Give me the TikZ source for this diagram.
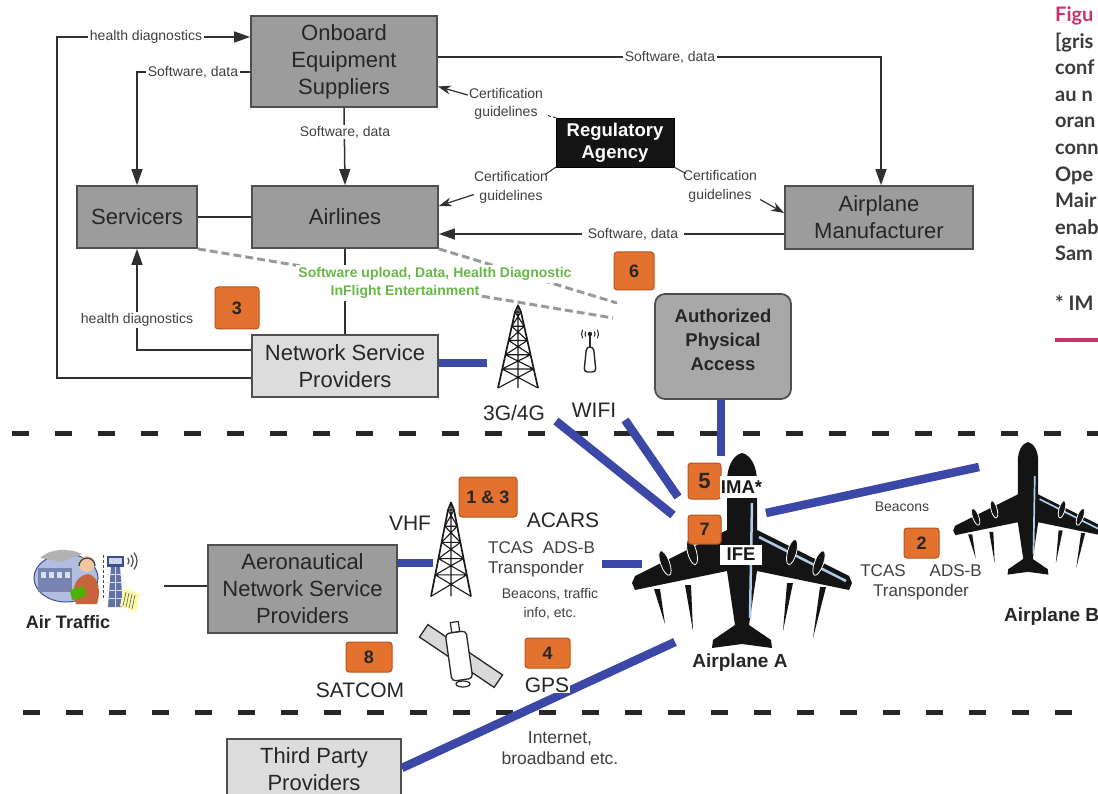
\documentclass[tikz,border=0pt]{standalone}
\usepackage{fontspec}
\setmainfont{Liberation Sans}
\newfontfamily\capfont{Lato}
\usetikzlibrary{arrows.meta,calc,shapes.geometric}
\definecolor{boxgray}{HTML}{9C9C9C}
\definecolor{lightgraybox}{HTML}{DCDCDC}
\definecolor{apagray}{HTML}{A8A8A8}
\definecolor{bordergray}{HTML}{4F4F4F}
\definecolor{linegray}{HTML}{303030}
\definecolor{labelgray}{HTML}{404040}
\definecolor{orangefill}{HTML}{E2722E}
\definecolor{orangeedge}{HTML}{B4541E}
\definecolor{radioblue}{HTML}{3C48A8}
\definecolor{greentext}{HTML}{68B846}
\definecolor{dashgray}{HTML}{9A9A9A}
\definecolor{captionpink}{HTML}{C8336F}
\definecolor{captiontext}{HTML}{3A3A3A}
\definecolor{planeblue}{HTML}{AECDEB}
\definecolor{atcblue}{HTML}{7F93C9}
\definecolor{atcdark}{HTML}{3D4E8F}
\definecolor{skin}{HTML}{F2C7A0}
\definecolor{shirt}{HTML}{C7643E}

\tikzset{
  boxbase/.style={draw=bordergray, line width=1.8pt, align=center, inner sep=0pt, text=black!85,
     font=\fontsize{22}{27}\selectfont},
  graybox/.style={boxbase, fill=boxgray},
  lightbox/.style={boxbase, fill=lightgraybox},
  numbox/.style={fill=orangefill, draw=orangeedge, line width=1pt, rounded corners=3pt, inner sep=0pt,
     font=\bfseries\fontsize{18}{18}\selectfont, text=black!85},
  flow/.style={draw=linegray, line width=1.5pt},
  arrowflow/.style={flow, -{Triangle[length=16pt,width=11pt]}},
  certarrow/.style={draw=linegray, line width=1.2pt, -{Stealth[length=13pt,width=9pt]}},
  smalllabel/.style={font=\fontsize{14}{19}\selectfont, text=labelgray, fill=white, inner sep=1.5pt, align=center},
  certlabel/.style={font=\fontsize{14}{18.5}\selectfont, text=labelgray, inner sep=0pt, align=center},
  radio/.style={draw=radioblue, line width=8.5pt},
  biglabel/.style={font=\fontsize{21}{24}\selectfont, text=black!85, inner sep=1pt},
  midlabel/.style={font=\fontsize{17}{20}\selectfont, text=labelgray, inner sep=1pt, align=center},
  boldlabel/.style={font=\bfseries\fontsize{19}{22}\selectfont, text=black!85, inner sep=1pt},
  greenlabel/.style={font=\bfseries\fontsize{14}{16}\selectfont, text=greentext, fill=white, inner xsep=2pt, inner ysep=2.5pt},
  graydash/.style={draw=dashgray, line width=3pt, dash pattern=on 8pt off 4pt},
  zonedash/.style={draw=black!85, line width=5pt, dash pattern=on 17pt off 26pt},
  captionline/.style={font=\capfont\bfseries\fontsize{20}{22}\selectfont, text=captiontext, anchor=base west, inner sep=0pt},
}

\newcommand\latticetower{%
  \draw[line width=1.7pt, line join=round, draw=black!90] (-20,80) -- (-3,0) -- (0,-7) -- (3,0) -- (20,80);
  \draw[line width=1.1pt, draw=black!90]
     (-3,0)--(3,0) (-6.2,15)--(6.2,15) (-9.4,30)--(9.4,30) (-12.6,45)--(12.6,45) (-15.8,60)--(15.8,60)
     (-3,0)--(6.2,15) (3,0)--(-6.2,15) (-6.2,15)--(9.4,30) (6.2,15)--(-9.4,30)
     (-9.4,30)--(12.6,45) (9.4,30)--(-12.6,45) (-12.6,45)--(15.8,60) (12.6,45)--(-15.8,60)
     (-15.8,60)--(20,80) (15.8,60)--(-20,80) (0,-7)--(0,80);
}

\newcommand\airplaneshape[1]{%
  \fill[black!92] (0,0) .. controls (-9,2) and (-15,14) .. (-15,28) -- (-15,77) -- (-107,123) -- (-110,130) -- (-107,137)
     -- (-15,118) -- (-7,172) -- (-29,187) -- (-30,195) -- (0,191) -- (30,195) -- (29,187) -- (7,172) -- (15,118)
     -- (107,137) -- (110,130) -- (107,123) -- (15,77) -- (15,28) .. controls (15,14) and (9,2) .. (0,0) -- cycle;
  \draw[planeblue, line width=#1] (10,50) -- (8,165);
  \draw[planeblue, line width=#1] (17,84) -- (104,128);
  \foreach \ex/\ey/\ang in {-77/110/20, -50/99/15, 50/99/-15, 77/110/-20}
     \draw[white, line width=0.8pt, fill=black!92, rotate around={\ang:(\ex,\ey)}] (\ex,\ey) ellipse (4.5 and 13);
  \fill[black!92] (-88,136) -- (-82,136) -- (-77,171) -- cycle;
  \fill[black!92] (-57,132) -- (-51,132) -- (-49,178) -- cycle;
  \fill[black!92] (45,130) -- (51,130) -- (41,178) -- cycle;
  \fill[black!92] (78,134) -- (84,134) -- (71,185) -- cycle;
}

\begin{document}
\begin{tikzpicture}[x=1pt, y=-1pt]
\useasboundingbox (0,0) rectangle (1098,794);
\clip (0,0) rectangle (1098,794);
\fill[white] (0,0) rectangle (1098,794);

% zone separators
\draw[zonedash] (12,433) -- (1098,433);
\draw[zonedash] (23,712) -- (1080,712);

% ---------- boxes ----------
\node[graybox, minimum width=186pt, minimum height=91pt] (onb) at (344,61.5) {Onboard\\Equipment\\Suppliers};
\node[graybox, minimum width=120pt, minimum height=62pt] (serv) at (137,217) {Servicers};
\node[graybox, minimum width=186pt, minimum height=62pt] (air) at (345,217) {Airlines};
\node[fill=black!92, draw=black, minimum width=118pt, minimum height=49pt, inner sep=0pt, align=center,
      text=white, font=\bfseries\fontsize{18.5}{22}\selectfont] (reg) at (615,142.5) {Regulatory\\Agency};
\node[graybox, minimum width=188pt, minimum height=63pt] (am) at (879,217.5) {Airplane\\Manufacturer};
\node[lightbox, minimum width=186pt, minimum height=62pt] (nsp) at (345,366) {Network Service\\Providers};
\node[boxbase, fill=apagray, rounded corners=10pt, minimum width=136pt, minimum height=105pt] (apa) at (723,346.5) {};
\node[align=center, inner sep=0pt, text=black!85, font=\bfseries\fontsize{18.5}{24}\selectfont] (apatext) at (723,340) {Authorized\\Physical\\Access};
\node[graybox, minimum width=189pt, minimum height=88pt] (aero) at (302.5,589) {Aeronautical\\Network Service\\Providers};
\node[lightbox, minimum width=174pt, minimum height=60pt] (tpp) at (314,769) {Third Party\\Providers};

% ---------- gray dashed links ----------
\coordinate (d1end) at (613,318);
\coordinate (d2end) at (617,303);
\draw[graydash] (serv.south east) -- (d1end);
\draw[graydash] (air.south east) -- (d2end);

% ---------- black connectors ----------
\draw[arrowflow] ([yshift=-12pt]nsp.west) -- ++(-194,0) |- ([yshift=24.5pt]onb.west);
\draw[arrowflow] ([yshift=-10.5pt]onb.west) -| (serv.north);
\draw[arrowflow] (onb.south) -- (air.north);
\draw[flow] (serv.east) -- (air.west);
\draw[flow] (air.south) -- (nsp.north);
\draw[arrowflow] ([yshift=16pt]nsp.west) -| (serv.south);
\draw[arrowflow] ([yshift=4.5pt]onb.east) -| ([xshift=2pt]am.north);
\draw[arrowflow] ([yshift=-16.5pt]am.west) -- ([yshift=-16.5pt]am.west -| air.east);

\node[smalllabel] (lhd1) at (146,37) {health diagnostics};
\node[smalllabel] (lsd1) at (193,72) {Software, data};
\node[smalllabel] (lsd2) at (345,132) {Software, data};
\node[smalllabel] (lhd2) at (137,320) {health diagnostics};
\node[smalllabel] (lsd3) at (670,57) {Software, data};
\node[smalllabel, inner xsep=6pt] (lsd4) at (633,234) {Software, data};

% certification guidelines
\node[certlabel] (c1) at (506,104) {Certification\\guidelines};
\node[certlabel] (c2) at (511,187.5) {Certification\\guidelines};
\node[certlabel] (c3) at (720,186.5) {Certification\\guidelines};
\draw[certarrow] ($(c1.north west)+(-1,7)$) -- ([yshift=-25pt]onb.east);
\draw[linegray, line width=1pt, dash pattern=on 3pt off 2pt] (reg.north west) -- ($(c1.south east)+(3,-5)$);
\draw[linegray, line width=1pt] (reg.south west) -- ($(c2.north east)+(-3,3)$);
\draw[certarrow] ($(c2.south west)+(0,-9)$) -- ([yshift=11pt]air.east);
\draw[linegray, line width=1pt] (reg.south east) -- ($(c3.north west)+(3,3)$);
\draw[certarrow] ($(c3.south east)+(3,-3)$) -- ([yshift=4.5pt]am.west);

% green labels
\node[greenlabel] (g1) at (435,274) {Software upload, Data, Health Diagnostic};
\node[greenlabel] (g2) at (405,292) {InFlight Entertainment};

% ---------- towers and icons ----------
\begin{scope}[shift={(518,312)}, yscale=0.95]
  \latticetower
\end{scope}
\begin{scope}[shift={(451,510)}, yscale=1.08]
  \latticetower
\end{scope}

% wifi antenna
\draw[black!85, line width=1.4pt, fill=white, rounded corners=3.5pt] (586.5,347) -- (584,372) -- (596,372) -- (593.5,347) -- cycle;
\draw[black!85, line width=1.4pt] (590,347) -- (590,336);
\fill[black!85] (590,334) circle (2.2);
\draw[black!85, line width=1pt] ([shift={(150:5)}]590,334) arc[start angle=150, end angle=210, radius=5];
\draw[black!85, line width=1pt] ([shift={(150:8.5)}]590,334) arc[start angle=150, end angle=210, radius=8.5];
\draw[black!85, line width=1pt] ([shift={(-30:5)}]590,334) arc[start angle=-30, end angle=30, radius=5];
\draw[black!85, line width=1pt] ([shift={(-30:8.5)}]590,334) arc[start angle=-30, end angle=30, radius=8.5];

% satellite
\node[draw=black!85, line width=1.3pt, fill=black!15, minimum width=90pt, minimum height=15pt, inner sep=0pt, rotate=-34] (satpanel) at (461,656) {};
\node[draw=black!85, line width=1.3pt, fill=white, rounded corners=4pt, minimum width=21pt, minimum height=48pt, inner sep=0pt, rotate=8] (satbody) at (459,656) {};
\node[draw=black!85, line width=1.2pt, fill=white, minimum width=8pt, minimum height=10pt, inner sep=0pt, rotate=8] (sattop) at (455,627) {};
\node[draw=black!85, line width=1.2pt, fill=white, ellipse, minimum width=14pt, minimum height=6pt, inner sep=0pt] (satdish) at (463,684) {};

% air traffic clip art
\fill[atcblue!60] (66,578) ellipse (32 and 24);
\draw[atcdark, line width=1pt] (66,578) ellipse (32 and 24);
\fill[black!30] (40,558) .. controls (50,548) and (70,548) .. (82,554) -- (62,562) -- cycle;
\fill[atcdark!70] (38,568) rectangle (72,592);
\foreach \i in {0,...,3}{\fill[atcblue!30] (41+\i*8,572) rectangle (46+\i*8,578);}
\fill[shirt] (76,604) .. controls (70,590) and (75,576) .. (88,574) .. controls (99,576) and (101,592) .. (97,604) -- cycle;
\fill[skin] (87,564) circle (8);
\draw[black!75, line width=1.3pt] (79,566) arc[start angle=180, end angle=360, radius=8];
\fill[green!40!olive] (70,590) -- (84,586) -- (86,596) -- (72,600) -- cycle;
\draw[black!70, line width=1pt, dash pattern=on 3pt off 2pt] (103,555) -- (103,600);
\fill[atcdark!80] (108,607) -- (111,566) -- (120,566) -- (123,607) -- cycle;
\foreach \yy in {574,582,590,598}{\draw[white!70!atcblue, line width=0.8pt] (107,\yy) -- (124,\yy);}
\draw[white!70!atcblue, line width=0.8pt] (115.5,566) -- (115.5,607);
\fill[atcdark] (107,556) rectangle (124,567);
\fill[atcblue!40] (109,558) rectangle (122,564);
\foreach \rr in {5,9,13}{\draw[black!70, line width=1.2pt] ([shift={(-40:\rr)}]124,561) arc[start angle=-40, end angle=40, radius=\rr];}
\fill[yellow!35] (124,588) -- (140,594) -- (136,612) -- (120,606) -- cycle;
\foreach \k in {0,1,2,3}{\draw[black!60, line width=0.7pt] (126+\k*3,592+\k) -- (123+\k*3,606+\k);}

% ---------- airplanes ----------
\begin{scope}[shift={(742,453)}]
  \airplaneshape{2.5pt}
\end{scope}
\begin{scope}[shift={(1028,442)}, scale=0.68]
  \airplaneshape{1.7pt}
\end{scope}

% ---------- radio links ----------
\coordinate (t3g) at (487,363);
\coordinate (g3a) at (556,421);
\coordinate (g3b) at (673,515);
\coordinate (wfa) at (625,420);
\coordinate (wfb) at (678,497);
\coordinate (vhfin) at (433,563);
\coordinate (acarsa) at (602,564);
\coordinate (acarsb) at (642,564);
\coordinate (beaca) at (766,513);
\coordinate (beacb) at (979,467);
\coordinate (gpsend) at (675,642);
\draw[radio] ([yshift=3pt]nsp.east) -- (t3g);
\draw[radio] (g3a) -- (g3b);
\draw[radio] (wfa) -- (wfb);
\draw[radio] ([xshift=-2pt]apa.south) -- ++(0,56);
\draw[radio] ([yshift=26pt]aero.east) -- (vhfin);
\draw[radio] (acarsa) -- (acarsb);
\draw[radio] (beaca) -- (beacb);
\draw[radio] ([yshift=1pt]tpp.east) -- (gpsend);
\coordinate (atcend) at (164,586);
\draw[flow] (atcend) -- (atcend -| aero.west);

% ---------- orange markers ----------
\node[numbox, minimum width=44pt, minimum height=42pt] (n3) at (237,308) {3};
\node[numbox, minimum width=40pt, minimum height=38pt] (n6) at (634,271) {6};
\node[numbox, minimum width=58pt, minimum height=40pt] (n13) at (488,497) {1 \& 3};
\node[numbox, minimum width=46pt, minimum height=30pt] (n8) at (369,657) {8};
\node[numbox, minimum width=45pt, minimum height=30pt] (n4) at (547.5,653) {4};
\node[numbox, minimum width=33pt, minimum height=36pt, font=\bfseries\fontsize{22}{22}\selectfont] (n5) at (704.5,481) {5};
\node[numbox, minimum width=33pt, minimum height=29pt] (n7) at (704.5,529.5) {7};
\node[numbox, minimum width=35pt, minimum height=30pt] (n2) at (921.5,543) {2};

% ---------- labels ----------
\node[biglabel] (l3g) at (514,413) {3G/4G};
\node[biglabel] (lwifi) at (594,410) {WIFI};
\node[biglabel] (lvhf) at (410,523) {VHF};
\node[biglabel] (lacars) at (563,520) {ACARS};
\node[midlabel, anchor=west, align=left] (ltcas) at (487,559.5) {TCAS\ \ ADS-B\\Transponder};
\node[smalllabel, fill=none] (lbeac) at (550,603.5) {Beacons, traffic\\info, etc.};
\node[biglabel] (lsat) at (360,690) {SATCOM};
\node[biglabel, fill=white] (lgps) at (547,685) {GPS};
\node[midlabel, font=\fontsize{17.5}{21}\selectfont] (linet) at (560,748) {Internet,\\broadband etc.};
\node[smalllabel, fill=none] (lbeacb) at (902,507) {Beacons};
\node[midlabel] (ltcasb) at (921,582) {TCAS\hspace{24pt}ADS-B\\Transponder};
\node[boldlabel] (lplA) at (740,663) {Airplane A};
\node[boldlabel, anchor=west] (lplB) at (1003,617) {Airplane B};
\node[font=\bfseries\fontsize{18}{20}\selectfont, text=black!85, inner sep=1pt] (latc) at (68,622) {Air Traffic};
\node[fill=white, inner sep=1pt, minimum height=22pt, text=black!90, font=\bfseries\fontsize{18.5}{20}\selectfont] (ima) at (741.5,487) {IMA*};
\node[fill=white, inner sep=0pt, minimum width=42pt, minimum height=20pt, text=black!90, font=\bfseries\fontsize{18.5}{20}\selectfont] (ife) at (741,554.5) {IFE};

% ---------- caption fragments on the right ----------
\node[captionline, text=captionpink] (cap1) at (1055,22) {Figu};
\node[captionline] (cap2) at (1055,49) {[gris};
\node[captionline] (cap3) at (1055,75) {conf};
\node[captionline] (cap4) at (1055,102) {au n};
\node[captionline] (cap5) at (1055,128) {oran};
\node[captionline] (cap6) at (1055,155) {conn};
\node[captionline] (cap7) at (1055,182) {Ope};
\node[captionline] (cap8) at (1055,208) {Mair};
\node[captionline] (cap9) at (1055,235) {enab};
\node[captionline] (cap10) at (1055,261) {Sam};
\node[captionline] (cap11) at (1055,311) {* IM};
\draw[captionpink, line width=4pt] (1055,340) -- (1098,340);
\end{tikzpicture}
\end{document}
